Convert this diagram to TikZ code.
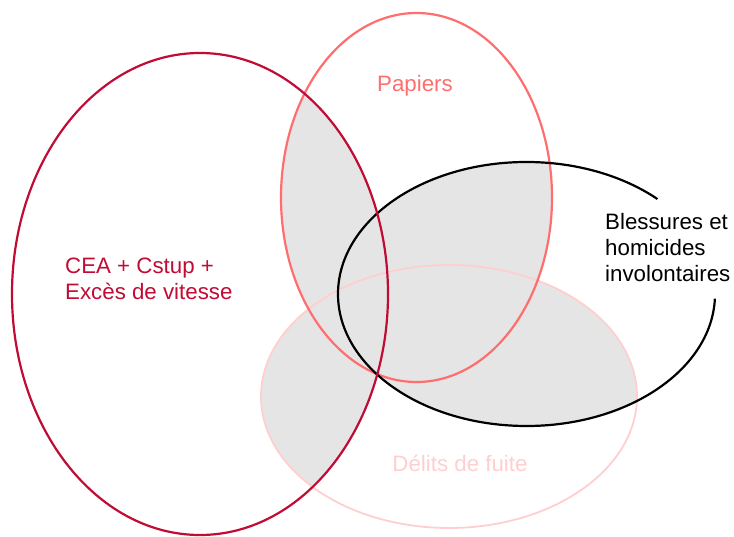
\documentclass[tikz,border=0pt]{standalone}
\usepackage{fontspec}
\setmainfont{Liberation Sans}
\usetikzlibrary{calc}

\definecolor{ceared}{HTML}{C00C34}
\definecolor{papred}{HTML}{FF6E6E}
\definecolor{fuitepink}{HTML}{FFCFCF}
\definecolor{overlap}{HTML}{E5E5E5}

\begin{document}
\begin{tikzpicture}[
        x=1pt, y=-1pt,
        label/.style={inner sep=0, font=\fontsize{22.3}{26}\selectfont, align=left},
    ]
    % sets
    \tikzstyle{setline}=[line width=2.2pt]
    \useasboundingbox (0,0) rectangle (734,537);
    \coordinate (CEA) at (200,294);
    \coordinate (PAP) at (416.5,197.5);
    \coordinate (BLE) at (526.5,294);
    \coordinate (FUI) at (449,396.5);
    % overlaps (every pair of sets)
    \begin{scope}
        \clip (CEA) ellipse [x radius=188, y radius=241];
        \fill[overlap] (PAP) ellipse [x radius=135.5, y radius=184.5];
        \fill[overlap] (BLE) ellipse [x radius=188.5, y radius=132];
        \fill[overlap] (FUI) ellipse [x radius=188, y radius=131.5];
    \end{scope}
    \begin{scope}
        \clip (PAP) ellipse [x radius=135.5, y radius=184.5];
        \fill[overlap] (BLE) ellipse [x radius=188.5, y radius=132];
        \fill[overlap] (FUI) ellipse [x radius=188, y radius=131.5];
    \end{scope}
    \begin{scope}
        \clip (BLE) ellipse [x radius=188.5, y radius=132];
        \fill[overlap] (FUI) ellipse [x radius=188, y radius=131.5];
    \end{scope}
    % outlines
    \draw[setline, line width=1.8pt, fuitepink] (FUI) ellipse [x radius=188, y radius=131.5];
    \draw[setline, papred] (PAP) ellipse [x radius=135.5, y radius=184.5];
    \draw[setline, black] ($(BLE)+(2:188.5 and 132)$)
        arc [start angle=2, end angle=314, x radius=188.5, y radius=132];
    \draw[setline, ceared] (CEA) ellipse [x radius=188, y radius=241];
    % labels
    \node[label, ceared, anchor=west] (ceatext) at (65,279) {CEA + Cstup +\\Excès de vitesse};
    \node[label, papred] (paptext) at (415,86) {Papiers};
    \node[label, black, anchor=west] (bletext) at (605,248) {Blessures et\\homicides\\involontaires};
    \node[label, fuitepink] (fuitext) at (460,463) {Délits de fuite};
\end{tikzpicture}
\end{document}
